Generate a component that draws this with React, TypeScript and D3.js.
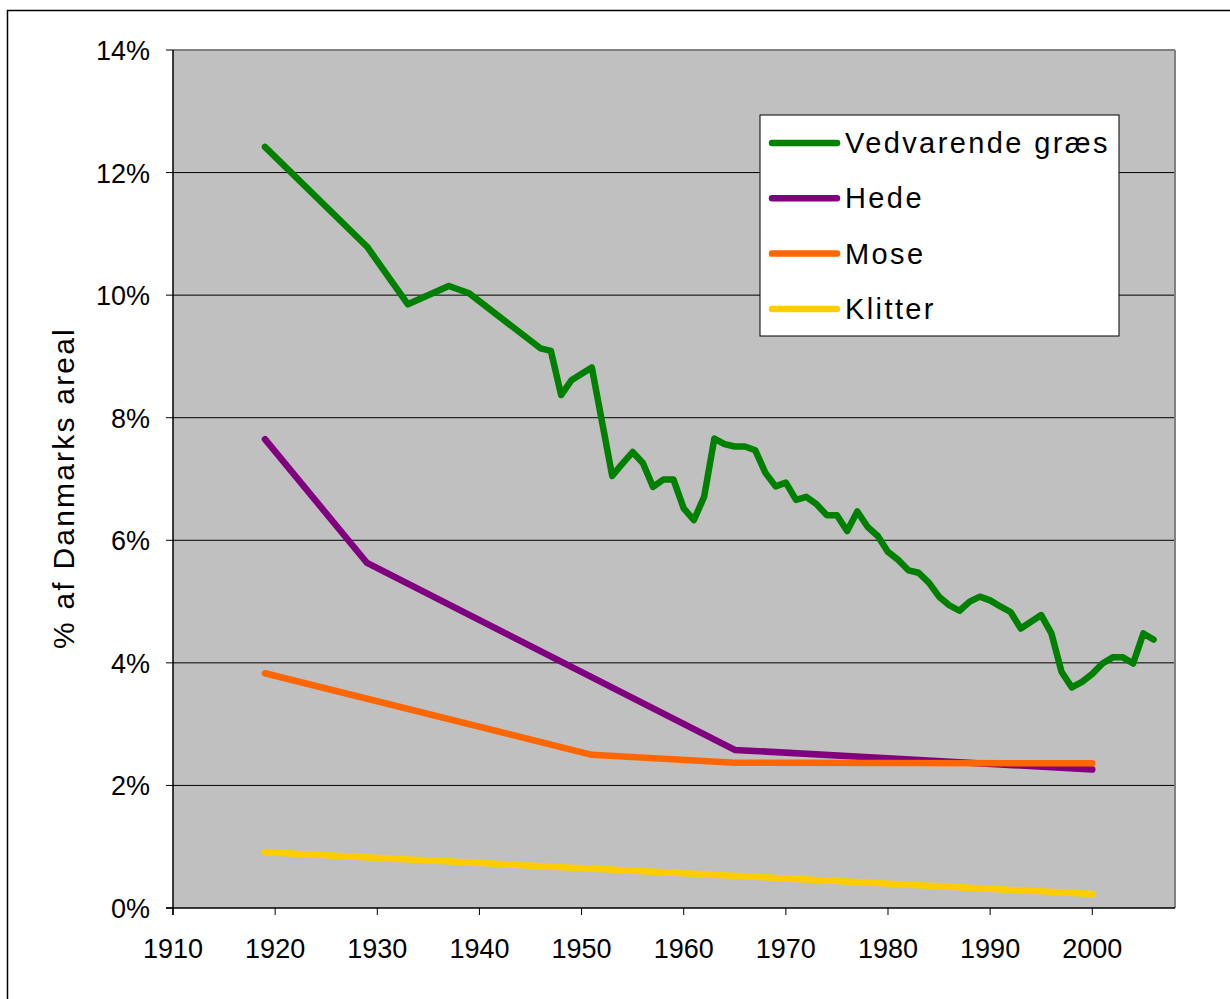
import React from "react";
import * as d3 from "d3";

const grassYears = [1919, 1929, 1933, 1937, 1939, 1946, 1947, 1948, 1949, 1951, 1953, 1954, 1955, 1956, 1957, 1958, 1959, 1960, 1961, 1962, 1963, 1964, 1965, 1966, 1967, 1968, 1969, 1970, 1971, 1972, 1973, 1974, 1975, 1976, 1977, 1978, 1979, 1980, 1981, 1982, 1983, 1984, 1985, 1986, 1987, 1988, 1989, 1990, 1991, 1992, 1993, 1994, 1995, 1996, 1997, 1998, 1999, 2000, 2001, 2002, 2003, 2004, 2005, 2006];
const grassValues = [12.42, 10.79, 9.85, 10.15, 10.03, 9.13, 9.09, 8.37, 8.61, 8.82, 7.05, 7.25, 7.44, 7.26, 6.87, 6.99, 6.99, 6.52, 6.33, 6.71, 7.66, 7.57, 7.53, 7.53, 7.47, 7.10, 6.88, 6.94, 6.66, 6.71, 6.59, 6.41, 6.41, 6.15, 6.47, 6.22, 6.07, 5.81, 5.68, 5.51, 5.47, 5.31, 5.08, 4.94, 4.85, 5.00, 5.08, 5.02, 4.92, 4.83, 4.56, 4.67, 4.78, 4.48, 3.85, 3.60, 3.69, 3.82, 3.99, 4.09, 4.09, 3.99, 4.48, 4.38];
const hedeYears = [1919, 1929, 1965, 2000];
const hedeValues = [7.65, 5.63, 2.58, 2.26];
const moseYears = [1919, 1951, 1965, 2000];
const moseValues = [3.83, 2.50, 2.37, 2.36];
const klitterYears = [1919, 2000];
const klitterValues = [0.91, 0.23];

const xTicks = [1910, 1920, 1930, 1940, 1950, 1960, 1970, 1980, 1990, 2000];
const yTicks = [0, 2, 4, 6, 8, 10, 12, 14];

const seriesNames = ["Vedvarende græs", "Hede", "Mose", "Klitter"];
const seriesColors = ["#008000", "#800080", "#FF6600", "#FFCC00"];

export default function App() {
  const left = 173, right = 1175, top = 50, bottom = 908;
  const x = d3.scaleLinear().domain([1910, 2008.1]).range([left, right]);
  const y = d3.scaleLinear().domain([0, 14]).range([bottom, top]);
  const line = d3.line<[number, number]>().x(d => x(d[0])).y(d => y(d[1]));
  const zip = (a: number[], b: number[]) => a.map((v, i) => [v, b[i]] as [number, number]);
  const series = [
    zip(grassYears, grassValues),
    zip(hedeYears, hedeValues),
    zip(moseYears, moseValues),
    zip(klitterYears, klitterValues),
  ];
  const font = "Arial, 'Liberation Sans', sans-serif";
  return (
    <svg width={1230} height={999} style={{ position: "absolute", left: 0, top: 0 }}>
      <rect x={0} y={0} width={1230} height={999} fill="#fff" />
      <rect x={7.5} y={10.5} width={1240} height={1000} fill="none" stroke="#000" strokeWidth={1.5} />
      <rect x={left} y={top} width={right - left} height={bottom - top} fill="#C0C0C0" />
      {yTicks.filter(t => t > 0 && t < 14).map(t => (
        <line key={t} x1={left} x2={right} y1={y(t)} y2={y(t)} stroke="#000" strokeWidth={1} />
      ))}
      <line x1={left} x2={right} y1={top} y2={top} stroke="#808080" strokeWidth={2} />
      <line x1={right} x2={right} y1={top} y2={bottom} stroke="#808080" strokeWidth={2} />
      <line x1={left} x2={left} y1={top} y2={bottom + 7} stroke="#000" strokeWidth={1.5} />
      <line x1={left - 7} x2={right} y1={bottom} y2={bottom} stroke="#000" strokeWidth={1.5} />
      {yTicks.map(t => (
        <g key={t}>
          <line x1={left - 7} x2={left} y1={y(t)} y2={y(t)} stroke="#000" strokeWidth={1} />
          <text x={150} y={y(t) + 10} textAnchor="end" fontFamily={font} fontSize={27} fill="#000">{t}%</text>
        </g>
      ))}
      {xTicks.map(t => (
        <g key={t}>
          <line x1={x(t)} x2={x(t)} y1={bottom} y2={bottom + 7} stroke="#000" strokeWidth={1} />
          <text x={x(t)} y={958} textAnchor="middle" fontFamily={font} fontSize={27} fill="#000">{t}</text>
        </g>
      ))}
      <text transform={`translate(74,488) rotate(-90)`} textAnchor="middle" fontFamily={font} fontSize={30} letterSpacing={2.2} fill="#000">% af Danmarks areal</text>
      {series.map((s, i) => (
        <path key={i} d={line(s) || ""} fill="none" stroke={seriesColors[i]} strokeWidth={6.5} strokeLinejoin="round" strokeLinecap="round" />
      ))}
      <rect x={760} y={115} width={359} height={221} fill="#fff" stroke="#000" strokeWidth={1} />
      {seriesNames.map((n, i) => (
        <g key={n}>
          <line x1={772} x2={837} y1={143 + i * 55.3} y2={143 + i * 55.3} stroke={seriesColors[i]} strokeWidth={6.5} strokeLinecap="round" />
          <text x={845} y={143 + i * 55.3 + 10} fontFamily={font} fontSize={29} letterSpacing={2.4} fill="#000">{n}</text>
        </g>
      ))}
    </svg>
  );
}
